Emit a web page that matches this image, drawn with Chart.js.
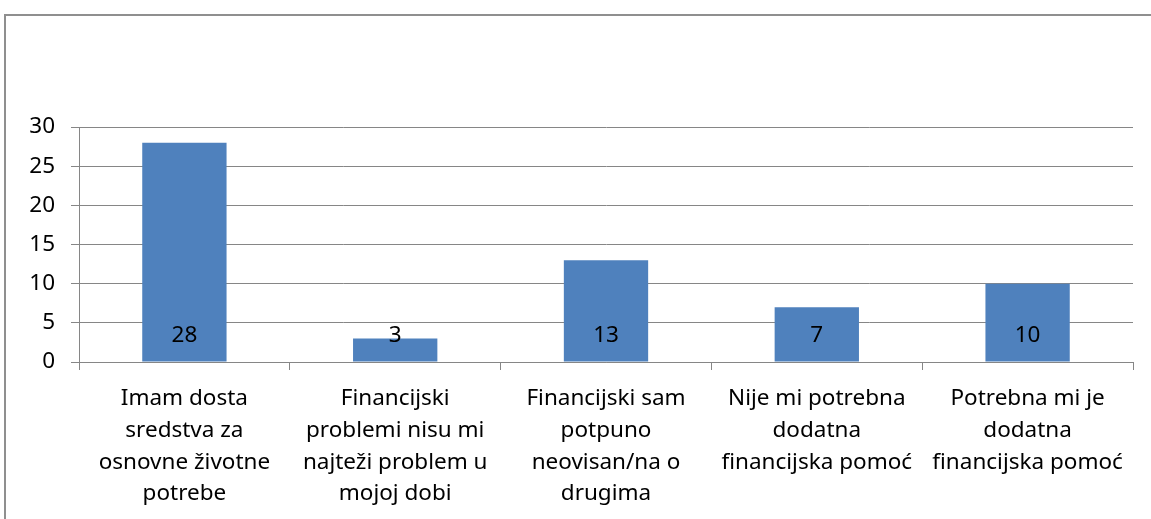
<!DOCTYPE html>
<html>
<head>
<meta charset="utf-8">
<script src="https://cdn.jsdelivr.net/npm/chart.js@4/dist/chart.umd.min.js"></script>
<style>
  html, body { margin: 0; padding: 0; background: #ffffff; overflow: hidden; }
  #frame { position: absolute; left: 4px; top: 14px; width: 1300px; height: 700px; border: 2px solid #8f8f8f; box-sizing: border-box; }
  #c { position: absolute; left: 0; top: 0; }
</style>
</head>
<body>
<div id="frame"></div>
<canvas id="c" width="1151" height="519"></canvas>
<script>
const categories = [
  ["Imam dosta", "sredstva za", "osnovne životne", "potrebe"],
  ["Financijski", "problemi nisu mi", "najteži problem u", "mojoj dobi"],
  ["Financijski sam", "potpuno", "neovisan/na o", "drugima"],
  ["Nije mi potrebna", "dodatna", "financijska pomoć"],
  ["Potrebna mi je", "dodatna", "financijska pomoć"]
];
const values = [28, 3, 13, 7, 10];
const yMin = 0, yMax = 30, yStep = 5;

const FONT = "'Noto Sans', 'Open Sans', sans-serif";

const valueLabels = {
  id: 'valueLabels',
  afterDatasetsDraw(chart) {
    const ctx = chart.ctx;
    const meta = chart.getDatasetMeta(0);
    const ys = chart.scales.y;
    ctx.save();
    ctx.font = "22.5px " + FONT;
    ctx.fillStyle = '#000000';
    ctx.textAlign = 'center';
    ctx.textBaseline = 'middle';
    meta.data.forEach((bar, i) => {
      ctx.fillText(String(values[i]), bar.x, ys.getPixelForValue(0) - 26);
    });
    ctx.restore();
  }
};

new Chart(document.getElementById('c'), {
  type: 'bar',
  data: {
    labels: categories,
    datasets: [{
      data: values,
      backgroundColor: '#4f81bd',
      borderWidth: 0,
      categoryPercentage: 1.0,
      barPercentage: 0.4
    }]
  },
  options: {
    responsive: false,
    animation: false,
    events: [],
    layout: { padding: { top: 127, right: 18, bottom: 0, left: 0 } },
    plugins: { legend: { display: false }, tooltip: { enabled: false } },
    scales: {
      x: {
        offset: true,
        grid: { offset: true, drawOnChartArea: false, drawTicks: true, tickLength: 8, color: '#868686' },
        border: { display: true, color: '#868686', width: 1 },
        ticks: {
          autoSkip: false, maxRotation: 0, minRotation: 0, padding: 13,
          color: '#000000',
          font: { family: FONT, size: 22.5, lineHeight: 1.41 }
        },
        afterFit(scale) { scale.height = 157; }
      },
      y: {
        min: yMin, max: yMax,
        grid: { color: '#868686', lineWidth: 1, drawTicks: true, tickLength: 8 },
        border: { display: true, color: '#868686', width: 1 },
        ticks: {
          stepSize: yStep, padding: 16, color: '#000000',
          font: { family: FONT, size: 22.5 }
        },
        afterFit(scale) { scale.width = 79; }
      }
    }
  },
  plugins: [valueLabels]
});
</script>
</body>
</html>
